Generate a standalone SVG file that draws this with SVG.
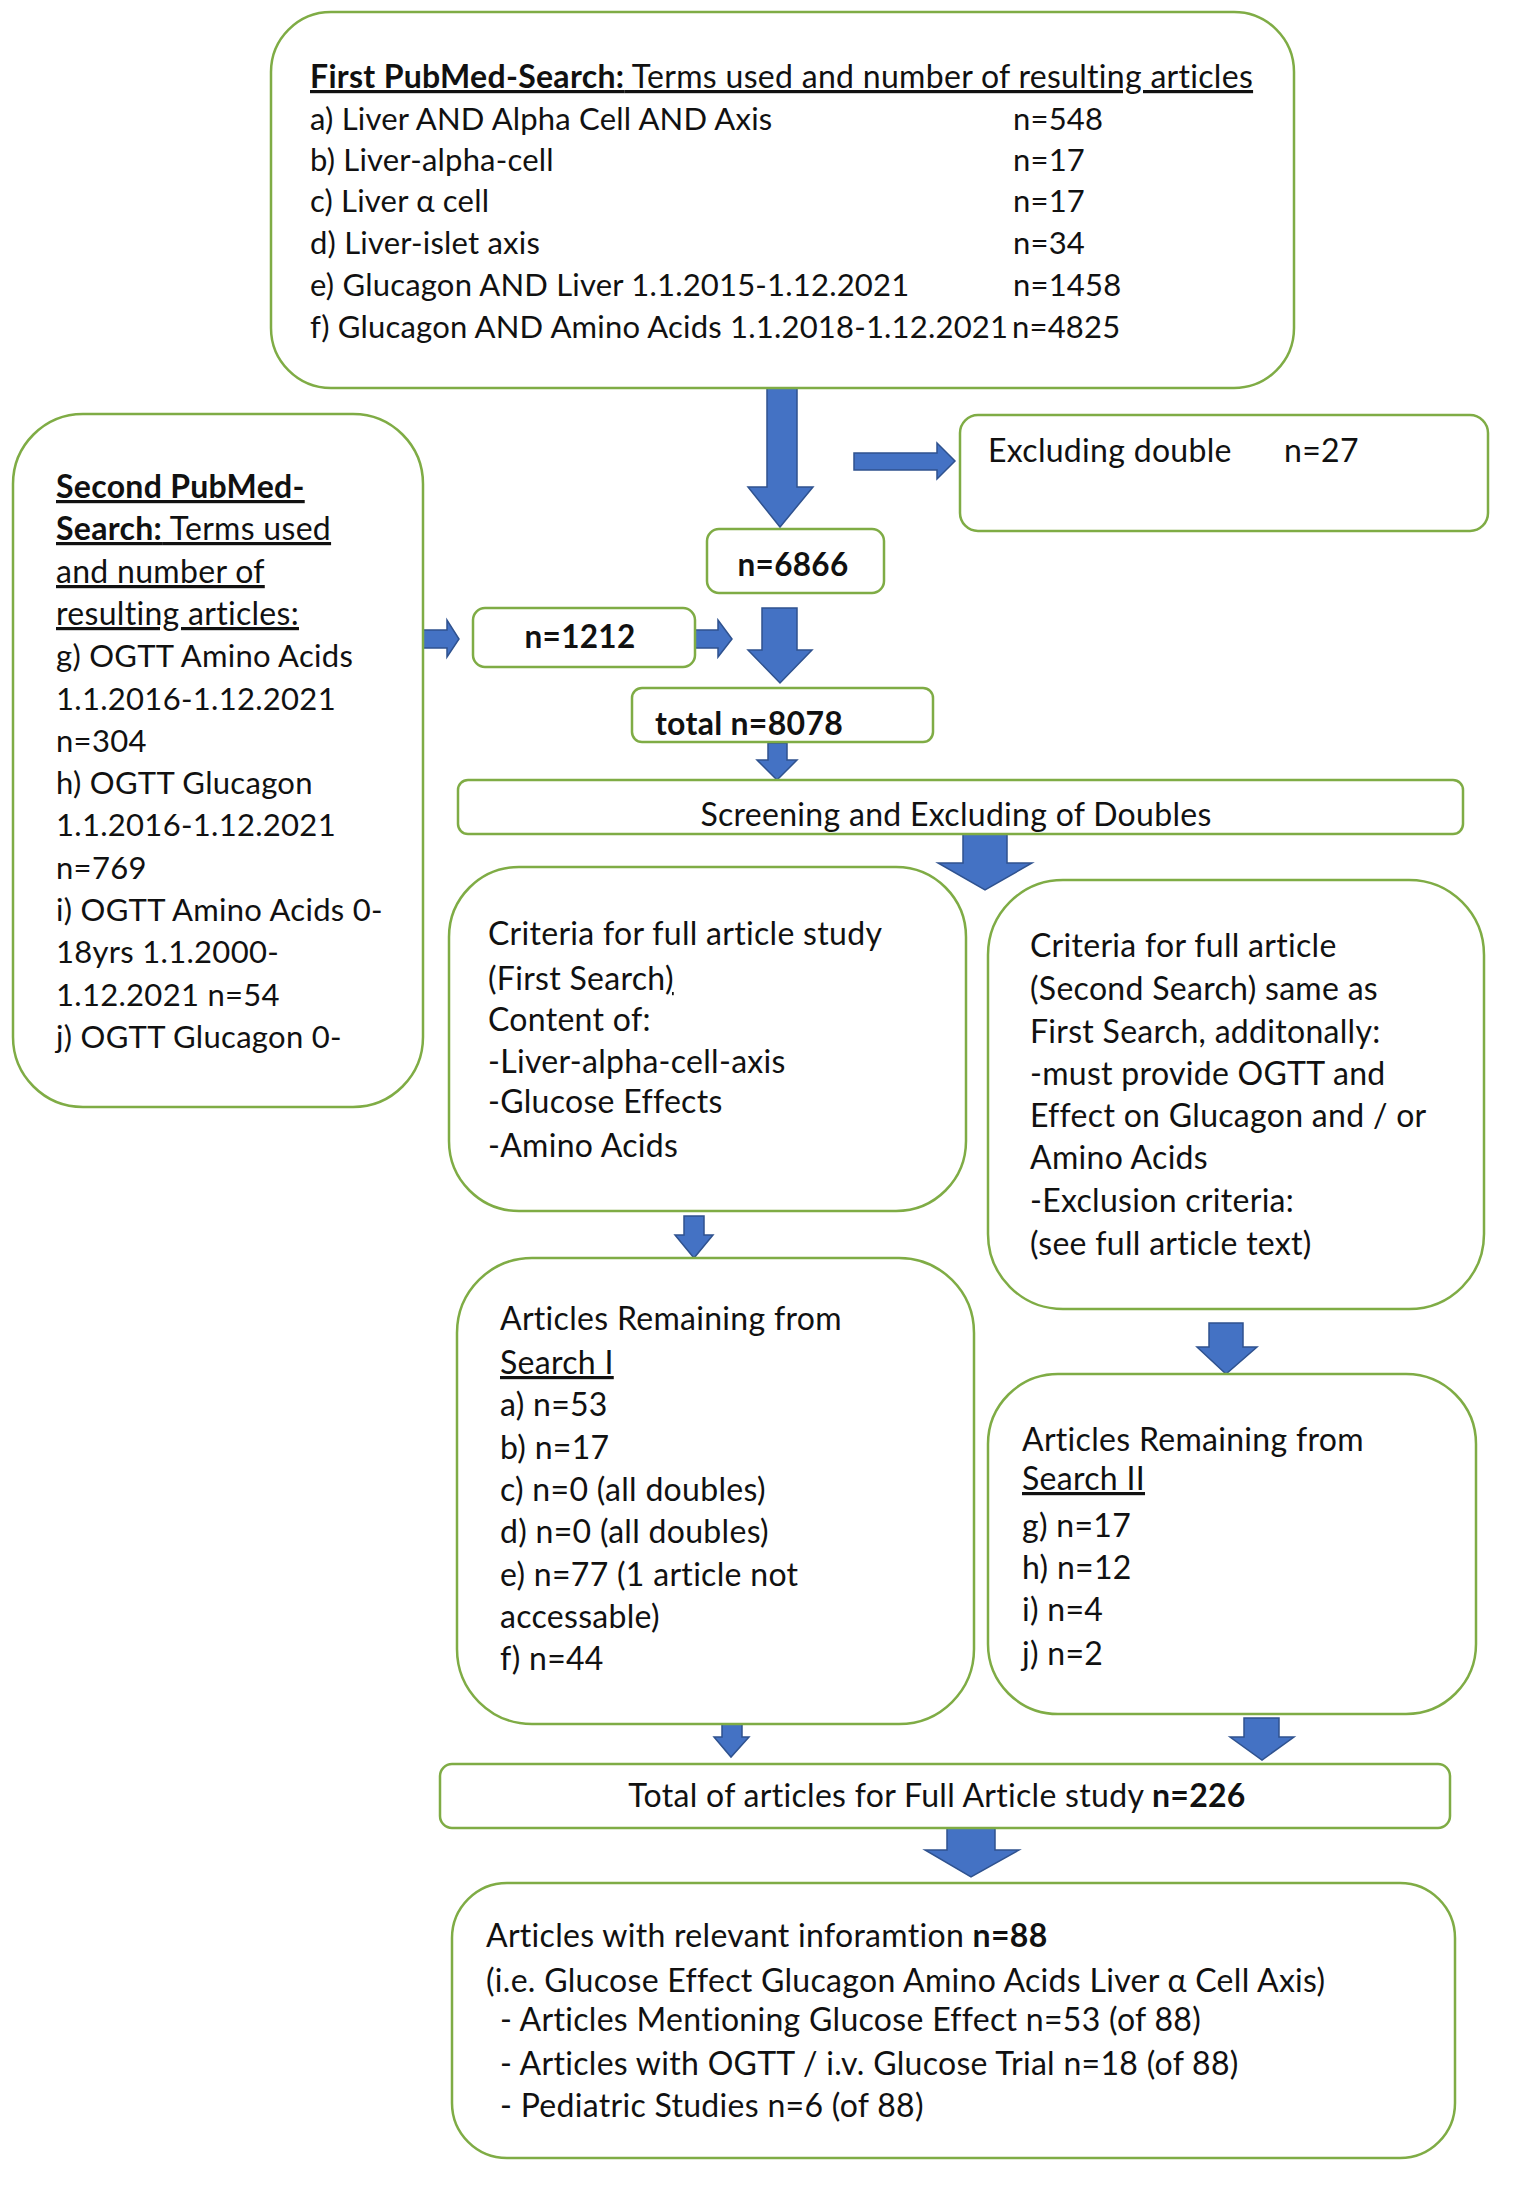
<svg xmlns="http://www.w3.org/2000/svg" width="1535" height="2201" viewBox="0 0 1535 2201">
<style>
.box{fill:#fff;stroke:#7fac45;stroke-width:2.5}
.arr{fill:#4472c4;stroke:#2f528f;stroke-width:1.5;stroke-linejoin:miter}
text{font-family:Lato,"Liberation Sans",sans-serif;fill:#111;font-size:32px;letter-spacing:0.3px}
.b{font-weight:bold}
.u{text-decoration:underline}
.t{font-size:31px;letter-spacing:0.2px}
.th{font-size:32px;letter-spacing:0.3px}
.l{font-size:31px;letter-spacing:0.3px}
.lh{font-size:32px;letter-spacing:0.3px}
.n{font-size:31.5px}
</style>
<rect width="1535" height="2201" fill="#fff"/>
<g id="connectors">
<path class="arr" d="M767,388 H797 V487 H813 L780,527 L748,487 H767 Z"/>
<path class="arr" d="M854,453 H937 V443 L955,461 L937,479 V470 H854 Z"/>
<path class="arr" d="M422,630 H447 V620 L459,639 L447,657 V648 H422 Z"/>
<path class="arr" d="M695,630 H718 V620 L732,639 L718,657 V648 H695 Z"/>
<path class="arr" d="M762,608 H797 V650 H812 L780,683 L748,650 H762 Z"/>
<path class="arr" d="M768,743 H787 V760 H797 L777,780 L757,760 H768 Z"/>
<path class="arr" d="M963,834 H1007 V863 H1032 L985,890 L938,863 H963 Z"/>
<path class="arr" d="M684,1216 H704 V1235 H713 L694,1258 L675,1235 H684 Z"/>
<path class="arr" d="M1209,1323 H1243 V1347 H1257 L1226,1374 L1197,1347 H1209 Z"/>
<path class="arr" d="M722,1724 H742 V1737 H749 L731,1757 L714,1737 H722 Z"/>
<path class="arr" d="M1244,1718 H1279 V1737 H1294 L1262,1760 L1230,1737 H1244 Z"/>
<path class="arr" d="M947,1828 H995 V1850 H1019 L971,1877 L925,1850 H947 Z"/>
</g>
<g id="first-search">
<rect class="box" x="271" y="12" width="1023" height="376" rx="60"/>
<text x="310" y="88" class="th u"><tspan class="b">First PubMed-Search:</tspan> Terms used and number of resulting articles</text>
<text class="t" x="310" y="130">a) Liver AND Alpha Cell AND Axis</text><text class="t" x="1013" y="130">n=548</text>
<text class="t" x="310" y="171">b) Liver-alpha-cell</text><text class="t" x="1013" y="171">n=17</text>
<text class="t" x="310" y="212">c) Liver α cell</text><text class="t" x="1013" y="212">n=17</text>
<text class="t" x="310" y="254">d) Liver-islet axis</text><text class="t" x="1013" y="254">n=34</text>
<text class="t" x="310" y="296">e) Glucagon AND Liver 1.1.2015-1.12.2021</text><text class="t" x="1013" y="296">n=1458</text>
<text class="t" x="310" y="338">f) Glucagon AND Amino Acids 1.1.2018-1.12.2021</text><text class="t" x="1012" y="338">n=4825</text>
</g>
<g id="second-search">
<rect class="box" x="13" y="414" width="410" height="693" rx="70"/>
<text class="lh u b" x="56" y="498">Second PubMed-</text>
<text class="lh u" x="56" y="540"><tspan class="b">Search:</tspan> Terms used</text>
<text class="lh u" x="56" y="583">and number of</text>
<text class="lh u" x="56" y="625">resulting articles:</text>
<text class="l" x="56" y="667">g) OGTT Amino Acids</text>
<text class="l" x="56" y="710">1.1.2016-1.12.2021</text>
<text class="l" x="56" y="752">n=304</text>
<text class="l" x="56" y="794">h) OGTT Glucagon</text>
<text class="l" x="56" y="836">1.1.2016-1.12.2021</text>
<text class="l" x="56" y="879">n=769</text>
<text class="l" x="56" y="921">i) OGTT Amino Acids 0-</text>
<text class="l" x="56" y="963">18yrs 1.1.2000-</text>
<text class="l" x="56" y="1006">1.12.2021 n=54</text>
<text class="l" x="56" y="1048">j) OGTT Glucagon 0-</text>
</g>
<g id="excluding-double">
<rect class="box" x="960" y="415" width="528" height="116" rx="18"/>
<text x="988" y="462">Excluding double</text><text x="1284" y="462">n=27</text>
</g>
<g id="n6866">
<rect class="box" x="707" y="529" width="177" height="64" rx="12"/>
<text class="b n" x="793" y="576" text-anchor="middle">n=6866</text>
</g>
<g id="n1212">
<rect class="box" x="473" y="608" width="222" height="59" rx="12"/>
<text class="b n" x="580" y="648" text-anchor="middle">n=1212</text>
</g>
<g id="total8078">
<rect class="box" x="632" y="688" width="301" height="54" rx="10"/>
<text class="b" x="655" y="735">total n=8078</text>
</g>
<g id="screening">
<rect class="box" x="458" y="780" width="1005" height="54" rx="10"/>
<text x="956" y="826" text-anchor="middle">Screening and Excluding of Doubles</text>
</g>
<g id="criteria-first">
<rect class="box" x="449" y="867" width="517" height="344" rx="70"/>
<text x="488" y="945">Criteria for full article study</text>
<text x="488" y="990">(First Search<tspan class="u">)</tspan></text>
<text x="488" y="1031">Content of:</text>
<text x="488" y="1073">-Liver-alpha-cell-axis</text>
<text x="488" y="1113">-Glucose Effects</text>
<text x="488" y="1157">-Amino Acids</text>
</g>
<g id="criteria-second">
<rect class="box" x="988" y="880" width="496" height="429" rx="75"/>
<text x="1030" y="957">Criteria for full article</text>
<text x="1030" y="1000">(Second Search) same as</text>
<text x="1030" y="1043">First Search, additonally:</text>
<text x="1030" y="1085">-must provide OGTT and</text>
<text x="1030" y="1127">Effect on Glucagon and / or</text>
<text x="1030" y="1169">Amino Acids</text>
<text x="1030" y="1212">-Exclusion criteria:</text>
<text x="1030" y="1255">(see  full article text)</text>
</g>
<g id="remaining-first">
<rect class="box" x="457" y="1258" width="517" height="466" rx="75"/>
<text x="500" y="1330">Articles Remaining from</text>
<text class="u" x="500" y="1374">Search I</text>
<text x="500" y="1416">a) n=53</text>
<text x="500" y="1459">b) n=17</text>
<text x="500" y="1501">c) n=0 (all doubles)</text>
<text x="500" y="1543">d) n=0 (all doubles)</text>
<text x="500" y="1586">e) n=77 (1 article not</text>
<text x="500" y="1628">accessable)</text>
<text x="500" y="1670">f) n=44</text>
</g>
<g id="remaining-second">
<rect class="box" x="988" y="1374" width="488" height="340" rx="70"/>
<text x="1022" y="1451">Articles Remaining from</text>
<text class="u" x="1022" y="1490">Search II</text>
<text x="1022" y="1537">g) n=17</text>
<text x="1022" y="1579">h) n=12</text>
<text x="1022" y="1621">i) n=4</text>
<text x="1022" y="1665">j) n=2</text>
</g>
<g id="total-full">
<rect class="box" x="440" y="1764" width="1010" height="64" rx="12"/>
<text x="937" y="1807" text-anchor="middle">Total of articles for Full Article study <tspan class="b">n=226</tspan></text>
</g>
<g id="relevant">
<rect class="box" x="452" y="1883" width="1003" height="275" rx="55"/>
<text x="486" y="1947">Articles with relevant inforamtion <tspan class="b">n=88</tspan></text>
<text x="486" y="1992">(i.e. Glucose Effect  Glucagon Amino Acids Liver α Cell Axis)</text>
<text x="500" y="2031">- Articles Mentioning Glucose Effect  n=53 (of 88)</text>
<text x="500" y="2075">- Articles with OGTT / i.v. Glucose Trial n=18 (of 88)</text>
<text x="500" y="2117">- Pediatric Studies n=6 (of 88)</text>
</g>
</svg>
